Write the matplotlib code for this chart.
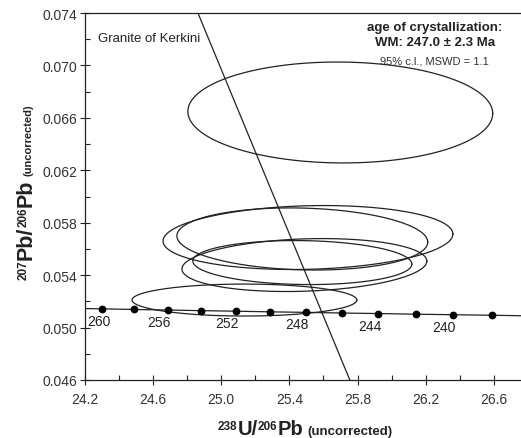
import matplotlib
matplotlib.use('Agg')
import matplotlib.pyplot as plt
import numpy as np
from matplotlib.transforms import IdentityTransform

plt.rcParams['font.family'] = ['Liberation Sans', 'DejaVu Sans']

# ---- data ----
conc_age = [262, 260, 258, 256, 254, 252, 250, 248, 246, 244, 242, 240, 238, 236]
conc_x = [24.108, 24.297, 24.489, 24.685, 24.883, 25.084, 25.289, 25.497,
          25.708, 25.923, 26.141, 26.363, 26.589, 26.818]
conc_y = [0.05147, 0.05143, 0.05138, 0.05134, 0.05129, 0.05125, 0.05120,
          0.05116, 0.05111, 0.05107, 0.05102, 0.05098, 0.05094, 0.05089]
marker_ages = [260, 258, 256, 254, 252, 250, 248, 246, 244, 242, 240, 238]
label_ages = [260, 256, 252, 248, 244, 240]

ell_cx = [25.699, 25.509, 25.476, 25.488, 25.476, 25.136]
ell_cy = [0.06641, 0.05687, 0.05676, 0.05477, 0.05496, 0.05210]
ell_a = [0.895, 0.851, 0.7365, 0.719, 0.643, 0.660]
ell_b = [0.00385, 0.00244, 0.00237, 0.00202, 0.00168, 0.00122]
ell_rho = [-0.02, 0.11, -0.10, 0.15, -0.07, 0.0]

disc_x = [24.863, 25.755]
disc_y = [0.074, 0.046]

xticks = [24.2, 24.6, 25.0, 25.4, 25.8, 26.2, 26.6]
xtick_labels = ['24.2', '24.6', '25.0', '25.4', '25.8', '26.2', '26.6']
xminor = [24.4, 24.8, 25.2, 25.6, 26.0, 26.4]
yticks = [0.046, 0.050, 0.054, 0.058, 0.062, 0.066, 0.070, 0.074]
ytick_labels = ['0.046', '0.050', '0.054', '0.058', '0.062', '0.066', '0.070', '0.074']
yminor = [0.048, 0.052, 0.056, 0.060, 0.064, 0.068, 0.072]

sample_name = 'Granite of Kerkini'
info_lines = ['age of crystallization:', 'WM: 247.0 ± 2.3 Ma', '95% c.l., MSWD = 1.1']

# ---- figure ----
W, H = 521, 439
fig = plt.figure(figsize=(W / 100, H / 100), dpi=100)
ax = fig.add_axes([85 / W, 58 / H, 436 / W, 367 / H])
ax.set_xlim(24.2, 26.76)
ax.set_ylim(0.046, 0.074)

ink = '#222222'

# concordia
ax.plot(conc_x, conc_y, color=ink, lw=0.9, zorder=3)
mx = [x for a, x in zip(conc_age, conc_x) if a in marker_ages]
my = [y for a, y in zip(conc_age, conc_y) if a in marker_ages]
ax.plot(mx, my, 'o', color='black', ms=4.6, zorder=4)
for a, x, y in zip(conc_age, conc_x, conc_y):
    if a in label_ages:
        dx = -3 if a == 260 else -9
        ax.annotate(str(a), (x, y), xytext=(dx, -12), textcoords='offset pixels',
                    ha='center', va='center', fontsize=10, color=ink)

# ellipses
t = np.linspace(0, 2 * np.pi, 400)
for cx, cy, a, b, r in zip(ell_cx, ell_cy, ell_a, ell_b, ell_rho):
    ex = cx + a * np.cos(t)
    ey = cy + b * (r * np.cos(t) + np.sqrt(1 - r * r) * np.sin(t))
    ax.plot(ex, ey, color=ink, lw=0.9, zorder=2)

# reference line
ax.plot(disc_x, disc_y, color=ink, lw=0.9, zorder=2, clip_on=True)

# ticks
ax.set_xticks(xticks)
ax.set_xticklabels(xtick_labels)
ax.set_xticks(xminor, minor=True)
ax.set_yticks(yticks)
ax.set_yticklabels(ytick_labels)
ax.set_yticks(yminor, minor=True)
ax.tick_params(which='major', direction='inout', length=7, width=0.8, colors=ink,
               labelsize=10, labelcolor='#333333')
ax.tick_params(axis='x', which='major', pad=5)
ax.tick_params(axis='y', which='major', pad=2)
ax.tick_params(which='minor', direction='in', length=3.5, width=0.8, colors=ink)
ax.spines['right'].set_visible(False)
for s in ['left', 'bottom', 'top']:
    ax.spines[s].set_color(ink)
    ax.spines[s].set_linewidth(0.9)

# texts
ax.text(24.276, 0.07209, sample_name, fontsize=9.5, ha='left', va='center', color=ink)
ax.text(26.254, 0.07293, info_lines[0], fontsize=9.5, fontweight='bold',
        ha='center', va='center', color=ink)
ax.text(26.254, 0.07179, info_lines[1], fontsize=9.5, fontweight='bold',
        ha='center', va='center', color=ink)
ax.text(26.254, 0.07041, info_lines[2], fontsize=8, ha='center', va='center', color='#333333')

# composed axis titles
fig.canvas.draw()
rend = fig.canvas.get_renderer()


def compose(pieces, center, base, vertical=False):
    arts, widths = [], []
    for s, size, rise, gap in pieces:
        tt = fig.text(0, 0, s, fontsize=size, fontweight='bold', color=ink,
                      transform=IdentityTransform(), ha='left', va='baseline')
        arts.append(tt)
        widths.append(tt.get_window_extent(rend).width)
    total = sum(widths) + sum(p[3] for p in pieces)
    pos = center - total / 2
    for tt, wd, (s, size, rise, gap) in zip(arts, widths, pieces):
        pos += gap
        if vertical:
            tt.set_rotation(90)
            tt.set_rotation_mode('anchor')
            tt.set_position((base - rise, pos))
        else:
            tt.set_position((pos, base + rise))
        pos += wd


compose([('238', 8.5, 5, 0), ('U/', 14.5, 0, 0), ('206', 8.5, 5, 0), ('Pb', 14.5, 0, 0),
         ('(uncorrected)', 9.5, 0, 4)], 305, 4)
compose([('207', 8.5, 5, 0), ('Pb/', 15.5, 0, 0), ('206', 8.5, 5, 0), ('Pb', 15.5, 0, 0),
         ('(uncorrected)', 8, 0, 4)], 247, 32, vertical=True)

fig.savefig('out.png', dpi=100)
